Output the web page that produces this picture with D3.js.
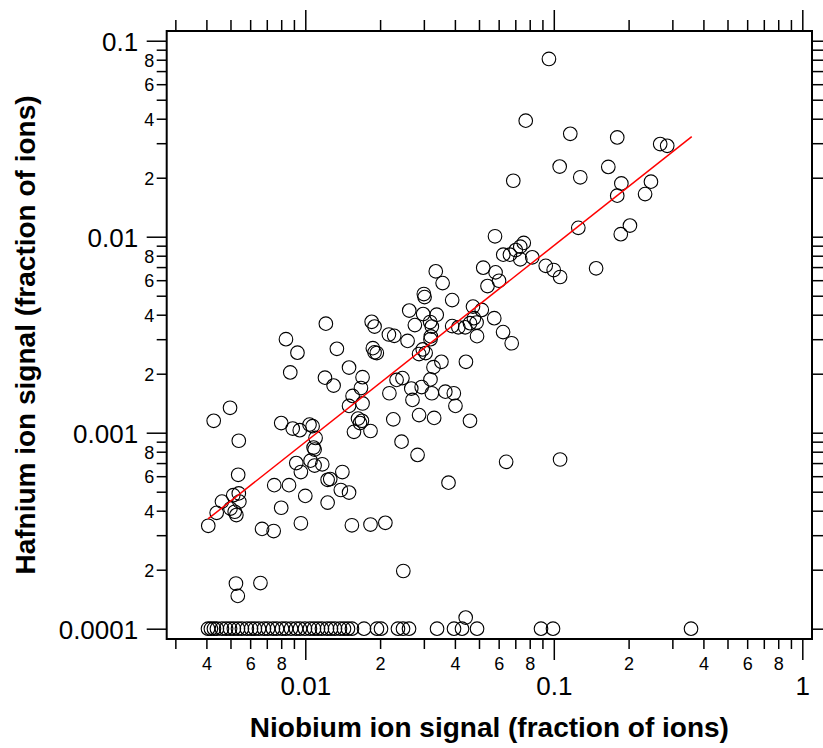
<!DOCTYPE html>
<html><head><meta charset="utf-8">
<script src="https://cdn.jsdelivr.net/npm/d3@7"></script>
<style>body{margin:0;background:#fff}</style>
</head><body>
<svg id="chart" width="823" height="748"></svg>
<script>
// Niobium (x) and Hafnium (y) ion signals, fraction of ions
const niobium = [
0.0956,0.0771,0.1165,0.180,0.268,0.286,0.1056,0.1657,0.1278,0.0687,
0.246,0.187,0.233,0.180,0.2025,0.1255,0.186,0.058,0.0757,0.0733,
0.0703,0.0666,0.0626,0.0819,0.0733,0.0928,0.052,0.148,0.0999,0.0335,
0.0583,0.106,0.0602,0.0357,0.0541,0.0300,0.0302,0.039,0.0473,0.0262,
0.0513,0.0298,0.0338,0.0576,0.0477,0.0489,0.046,0.044,0.0413,0.039,
0.0318,0.0323,0.0276,0.0121,0.0185,0.019,0.0625,0.0491,0.032,0.0319,
0.0217,0.0228,0.0258,0.0677,0.00836,0.0134,0.0187,0.019,0.0194,0.0093,
0.0297,0.0287,0.0305,0.0353,0.0443,0.015,0.0328,0.0087,0.017,0.012,
0.0233,0.0246,0.0319,0.013,0.01675,0.0267,0.0294,0.0323,0.0366,0.0396,
0.0218,0.0155,0.027,0.017,0.015,0.0402,0.00498,0.0163,0.0166,0.0169,
0.0226,0.0287,0.033,0.046,0.00428,0.008,0.0104,0.0107,0.0089,0.0095,
0.0157,0.0183,0.011,0.0054,0.0244,0.0108,0.0109,0.0283,0.106,0.0643,
0.0092,0.0105,0.0109,0.0117,0.0096,0.0141,0.00537,0.0123,0.0126,0.0377,
0.0075,0.0086,0.0139,0.015,0.01,0.00513,0.0054,0.00462,0.00543,0.0123,
0.008,0.005,0.0052,0.0044,0.00528,0.0096,0.0154,0.0183,0.021,0.00407,
0.0067,0.00746,0.00526,0.00535,0.0066,0.0248,0.0442
];
const hafnium = [
0.0807,0.0391,0.0335,0.0321,0.0297,0.0291,0.0228,0.0227,0.0201,0.0193,
0.0191,0.0187,0.0165,0.0162,0.0114,0.0111,0.0103,0.01005,0.0093,0.0089,
0.00855,0.0081,0.0081,0.00785,0.00767,0.0071,0.00695,0.0069,0.00676,0.00666,
0.00658,0.00623,0.00596,0.0058,0.0056,0.0051,0.00492,0.00475,0.0044,0.0042,
0.00423,0.00403,0.0040,0.00384,0.00384,0.00365,0.00362,0.00345,0.00345,0.0035,
0.00367,0.00348,0.00354,0.0036,0.00368,0.00348,0.00326,0.00311,0.0031,0.0030,
0.00317,0.00312,0.00294,0.00286,0.0030,0.00268,0.0027,0.00257,0.00255,0.00256,
0.00266,0.00252,0.00255,0.0023,0.0023,0.00215,0.00216,0.00203,0.00192,0.00191,
0.00186,0.0019,0.00187,0.00174,0.00169,0.00168,0.00171,0.00159,0.00162,0.00159,
0.00159,0.00154,0.00147,0.00141,0.00137,0.00137,0.00134,0.00118,0.00112,0.00115,
0.00117,0.00123,0.00119,0.00115,0.00115,0.00112,0.0011,0.00108,0.00105,0.00103,
0.00101,0.00102,0.00094,0.00091,0.0009,0.00084,0.00082,0.00077,0.00073,0.00071,
0.0007,0.00072,0.00068,0.00069,0.00063,0.00063,0.00061,0.000575,0.00058,0.000556,
0.00054,0.00054,0.00051,0.000495,0.000476,0.00048,0.00049,0.000445,0.000445,0.00044,
0.000414,0.00041,0.000395,0.00039,0.00038,0.000345,0.000337,0.00034,0.000347,0.000335,
0.000323,0.000315,0.00017,0.000147,0.000171,0.000197,0.000114
];
// Niobium values of samples sitting at the hafnium floor (0.0001)
const floorNiobium = [
0.00406,0.00417,0.00429,0.00441,0.00462,0.0048,0.00498,0.00516,0.00536,0.00556,
0.00582,0.00605,0.00627,0.00651,0.00682,0.00708,0.00741,0.00769,0.00806,0.00836,
0.00876,0.00917,0.00952,0.00997,0.01044,0.01084,0.01125,0.01167,0.01223,0.01269,
0.01317,0.01379,0.01431,0.01485,0.01541,0.01723,0.01943,0.02017,0.0236,0.02473,
0.02615,0.0339,0.03967,0.04272,0.04911,0.08882,0.09927,0.3566
];
const floorHafnium = 0.0001;
// fitted line end points
const fitNiobium = [0.00406, 0.359];
const fitHafnium = [0.000363, 0.0324];
// axes
const xDomain = [0.002769, 1.094];
const yDomain = [0.0000886, 0.1121];
const xMajorTicks = [0.01, 0.1, 1];
const xMajorLabels = ["0.01", "0.1", "1"];
const yMajorTicks = [0.0001, 0.001, 0.01, 0.1];
const yMajorLabels = ["0.0001", "0.001", "0.01", "0.1"];
const minorLabelDigits = [2, 4, 6, 8];
const xTitle = "Niobium ion signal (fraction of ions)";
const yTitle = "Hafnium ion signal (fraction of ions)";

const FONT = "'Liberation Sans', Arial, Helvetica, sans-serif";
const L = 166.7, R = 812, T = 31, B = 639;
const svg = d3.select("#chart");
const x = d3.scaleLog().domain(xDomain).range([L, R]);
const y = d3.scaleLog().domain(yDomain).range([B, T]);

function minorTicks(scale) {
  const [a, b] = scale.domain();
  const out = [];
  for (let e = Math.floor(Math.log10(a)); e <= Math.ceil(Math.log10(b)); e++) {
    const d = Math.pow(10, e);
    for (let k = 2; k <= 9; k++) {
      const v = +(k * d).toPrecision(3);
      const p = scale(v);
      if (v >= a && v <= b && Math.abs(p - scale.range()[0]) > 3 && Math.abs(p - scale.range()[1]) > 3) out.push(v);
    }
  }
  return out;
}
function leadDigit(v) { return Math.round(v / Math.pow(10, Math.floor(Math.log10(v) + 1e-9))); }
const minorFmt = v => minorLabelDigits.includes(leadDigit(v)) ? String(leadDigit(v)) : "";
const xMinor = minorTicks(x), yMinor = minorTicks(y);

function styleAxis(g) {
  g.select(".domain").remove();
  g.selectAll(".tick line").attr("stroke", "#000").attr("stroke-width", 1.5);
  g.selectAll("text").attr("fill", "#000").style("font-family", FONT);
}

// bottom
svg.append("g").attr("transform", `translate(0,${B})`)
  .call(d3.axisBottom(x).tickValues(xMinor).tickSize(10).tickFormat(minorFmt))
  .call(styleAxis)
  .call(g => g.selectAll("text").attr("y", 31).attr("dy", 0).style("font-size", "18px"));
svg.append("g").attr("transform", `translate(0,${B})`)
  .call(d3.axisBottom(x).tickValues(xMajorTicks).tickSize(21).tickFormat((d, i) => xMajorLabels[i]))
  .call(styleAxis)
  .call(g => g.selectAll("text").attr("y", 56).attr("dy", 0).style("font-size", "26px"));
// top
svg.append("g").attr("transform", `translate(0,${T})`)
  .call(d3.axisTop(x).tickValues(xMinor).tickSize(11).tickFormat(""))
  .call(styleAxis);
svg.append("g").attr("transform", `translate(0,${T})`)
  .call(d3.axisTop(x).tickValues(xMajorTicks).tickSize(21).tickFormat(""))
  .call(styleAxis);
// left
svg.append("g").attr("transform", `translate(${L},0)`)
  .call(d3.axisLeft(y).tickValues(yMinor).tickSize(10).tickFormat(minorFmt))
  .call(styleAxis)
  .call(g => g.selectAll("text").attr("x", -12.5).attr("dy", "0.36em").style("font-size", "18px"));
svg.append("g").attr("transform", `translate(${L},0)`)
  .call(d3.axisLeft(y).tickValues(yMajorTicks).tickSize(20).tickFormat((d, i) => yMajorLabels[i]))
  .call(styleAxis)
  .call(g => g.selectAll("text").attr("x", -28.5).attr("dy", "0.36em").style("font-size", "26px"));
// right
svg.append("g").attr("transform", `translate(${R},0)`)
  .call(d3.axisRight(y).tickValues(yMinor).tickSize(11).tickFormat(""))
  .call(styleAxis);
svg.append("g").attr("transform", `translate(${R},0)`)
  .call(d3.axisRight(y).tickValues(yMajorTicks).tickSize(21).tickFormat(""))
  .call(styleAxis);

// frame
svg.append("rect").attr("x", L).attr("y", T).attr("width", R - L).attr("height", B - T)
  .attr("fill", "none").attr("stroke", "#000").attr("stroke-width", 2);

// points
const pts = niobium.map((v, i) => ({nb: v, hf: hafnium[i]}))
  .concat(floorNiobium.map(v => ({nb: v, hf: floorHafnium})));
svg.append("g").selectAll("circle").data(pts).join("circle")
  .attr("cx", d => x(d.nb)).attr("cy", d => y(d.hf)).attr("r", 6.8)
  .attr("fill", "none").attr("stroke", "#000").attr("stroke-width", 1.1);

// fit line
svg.append("path").datum(fitNiobium.map((v, i) => [v, fitHafnium[i]]))
  .attr("d", d3.line().x(d => x(d[0])).y(d => y(d[1])))
  .attr("fill", "none").attr("stroke", "#ff0000").attr("stroke-width", 1.5);

// titles
svg.append("text").attr("x", (L + R) / 2).attr("y", 737).attr("text-anchor", "middle")
  .style("font-family", FONT).style("font-size", "28px").style("font-weight", "bold").text(xTitle);
svg.append("text").attr("transform", `translate(35,${(T + B) / 2}) rotate(-90)`).attr("text-anchor", "middle")
  .style("font-family", FONT).style("font-size", "28px").style("font-weight", "bold").text(yTitle);
</script>
</body></html>
